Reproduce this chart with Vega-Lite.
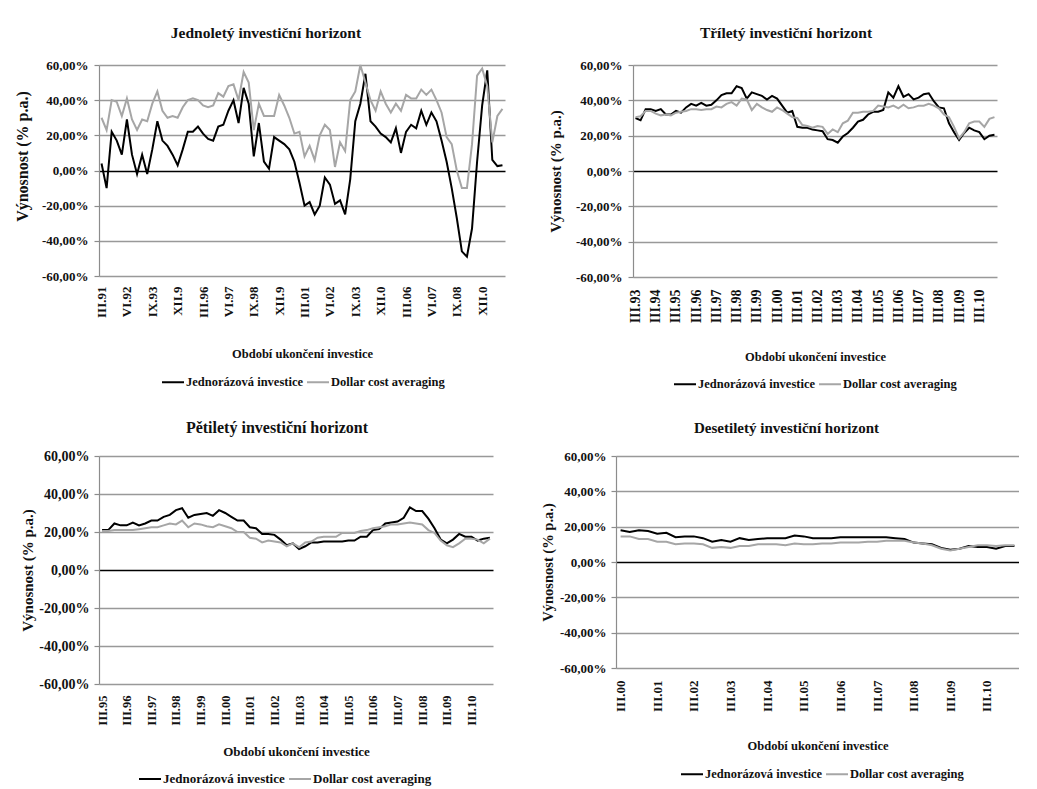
{
  "$schema": "https://vega.github.io/schema/vega-lite/v6.json",
  "background": "white",
  "padding": {"left": 14, "top": 25, "right": 0, "bottom": 0},
  "datasets": {
    "p1": [
      {"q":"III.91","J":0.04,"D":0.30},{"q":"VI.91","J":-0.10,"D":0.23},{"q":"IX.91","J":0.22,"D":0.40},{"q":"XII.91","J":0.17,"D":0.39},
      {"q":"III.92","J":0.09,"D":0.31},{"q":"VI.92","J":0.29,"D":0.41},{"q":"IX.92","J":0.09,"D":0.29},{"q":"XII.92","J":-0.02,"D":0.23},
      {"q":"III.93","J":0.09,"D":0.29},{"q":"VI.93","J":-0.02,"D":0.28},{"q":"IX.93","J":0.12,"D":0.38},{"q":"XII.93","J":0.28,"D":0.45},
      {"q":"III.94","J":0.17,"D":0.34},{"q":"VI.94","J":0.14,"D":0.30},{"q":"IX.94","J":0.09,"D":0.31},{"q":"XII.94","J":0.03,"D":0.30},
      {"q":"III.95","J":0.12,"D":0.36},{"q":"VI.95","J":0.22,"D":0.40},{"q":"IX.95","J":0.22,"D":0.41},{"q":"XII.95","J":0.25,"D":0.40},
      {"q":"III.96","J":0.21,"D":0.37},{"q":"VI.96","J":0.18,"D":0.36},{"q":"IX.96","J":0.17,"D":0.37},{"q":"XII.96","J":0.25,"D":0.44},
      {"q":"III.97","J":0.26,"D":0.42},{"q":"VI.97","J":0.34,"D":0.48},{"q":"IX.97","J":0.40,"D":0.49},{"q":"XII.97","J":0.27,"D":0.40},
      {"q":"III.98","J":0.47,"D":0.56},{"q":"VI.98","J":0.38,"D":0.50},{"q":"IX.98","J":0.08,"D":0.23},{"q":"XII.98","J":0.27,"D":0.38},
      {"q":"III.99","J":0.05,"D":0.31},{"q":"VI.99","J":0.01,"D":0.31},{"q":"IX.99","J":0.19,"D":0.31},{"q":"XII.99","J":0.17,"D":0.43},
      {"q":"III.00","J":0.15,"D":0.37},{"q":"VI.00","J":0.12,"D":0.30},{"q":"IX.00","J":0.05,"D":0.21},{"q":"XII.00","J":-0.07,"D":0.22},
      {"q":"III.01","J":-0.20,"D":0.08},{"q":"VI.01","J":-0.18,"D":0.14},{"q":"IX.01","J":-0.25,"D":0.06},{"q":"XII.01","J":-0.20,"D":0.20},
      {"q":"III.02","J":-0.04,"D":0.26},{"q":"VI.02","J":-0.08,"D":0.23},{"q":"IX.02","J":-0.19,"D":0.02},{"q":"XII.02","J":-0.17,"D":0.16},
      {"q":"III.03","J":-0.25,"D":0.11},{"q":"VI.03","J":-0.05,"D":0.40},{"q":"IX.03","J":0.28,"D":0.45},{"q":"XII.03","J":0.38,"D":0.60},
      {"q":"III.04","J":0.55,"D":0.50},{"q":"VI.04","J":0.28,"D":0.40},{"q":"IX.04","J":0.25,"D":0.34},{"q":"XII.04","J":0.21,"D":0.45},
      {"q":"III.05","J":0.19,"D":0.38},{"q":"VI.05","J":0.16,"D":0.33},{"q":"IX.05","J":0.24,"D":0.38},{"q":"XII.05","J":0.10,"D":0.34},
      {"q":"III.06","J":0.22,"D":0.43},{"q":"VI.06","J":0.26,"D":0.41},{"q":"IX.06","J":0.24,"D":0.41},{"q":"XII.06","J":0.34,"D":0.46},
      {"q":"III.07","J":0.26,"D":0.43},{"q":"VI.07","J":0.33,"D":0.46},{"q":"IX.07","J":0.28,"D":0.40},{"q":"XII.07","J":0.17,"D":0.33},
      {"q":"III.08","J":0.05,"D":0.19},{"q":"VI.08","J":-0.10,"D":0.15},{"q":"IX.08","J":-0.27,"D":0.00},{"q":"XII.08","J":-0.46,"D":-0.10},
      {"q":"III.09","J":-0.49,"D":-0.10},{"q":"VI.09","J":-0.33,"D":0.15},{"q":"IX.09","J":0.05,"D":0.54},{"q":"XII.09","J":0.37,"D":0.58},
      {"q":"III.10","J":0.57,"D":0.48},{"q":"VI.10","J":0.06,"D":0.16},{"q":"IX.10","J":0.025,"D":0.31},{"q":"XII.10","J":0.03,"D":0.35}
    ],
    "p2": [
      {"q":"III.93","J":0.30,"D":0.305},{"q":"VI.93","J":0.287,"D":0.31},{"q":"IX.93","J":0.35,"D":0.34},{"q":"XII.93","J":0.35,"D":0.34},
      {"q":"III.94","J":0.34,"D":0.325},{"q":"VI.94","J":0.35,"D":0.315},{"q":"IX.94","J":0.32,"D":0.32},{"q":"XII.94","J":0.32,"D":0.315},
      {"q":"III.95","J":0.34,"D":0.33},{"q":"VI.95","J":0.33,"D":0.335},{"q":"IX.95","J":0.36,"D":0.34},{"q":"XII.95","J":0.38,"D":0.35},
      {"q":"III.96","J":0.37,"D":0.35},{"q":"VI.96","J":0.385,"D":0.345},{"q":"IX.96","J":0.37,"D":0.35},{"q":"XII.96","J":0.375,"D":0.35},
      {"q":"III.97","J":0.40,"D":0.365},{"q":"VI.97","J":0.43,"D":0.36},{"q":"IX.97","J":0.44,"D":0.38},{"q":"XII.97","J":0.44,"D":0.39},
      {"q":"III.98","J":0.48,"D":0.37},{"q":"VI.98","J":0.47,"D":0.41},{"q":"IX.98","J":0.41,"D":0.405},{"q":"XII.98","J":0.445,"D":0.345},
      {"q":"III.99","J":0.435,"D":0.38},{"q":"VI.99","J":0.425,"D":0.36},{"q":"IX.99","J":0.405,"D":0.345},{"q":"XII.99","J":0.425,"D":0.335},
      {"q":"III.00","J":0.41,"D":0.36},{"q":"VI.00","J":0.37,"D":0.345},{"q":"IX.00","J":0.33,"D":0.325},{"q":"XII.00","J":0.34,"D":0.305},
      {"q":"III.01","J":0.25,"D":0.30},{"q":"VI.01","J":0.245,"D":0.26},{"q":"IX.01","J":0.245,"D":0.255},{"q":"XII.01","J":0.235,"D":0.245},
      {"q":"III.02","J":0.23,"D":0.255},{"q":"VI.02","J":0.225,"D":0.25},{"q":"IX.02","J":0.18,"D":0.21},{"q":"XII.02","J":0.175,"D":0.235},
      {"q":"III.03","J":0.16,"D":0.22},{"q":"VI.03","J":0.195,"D":0.27},{"q":"IX.03","J":0.215,"D":0.285},{"q":"XII.03","J":0.245,"D":0.33},
      {"q":"III.04","J":0.28,"D":0.33},{"q":"VI.04","J":0.29,"D":0.335},{"q":"IX.04","J":0.32,"D":0.335},{"q":"XII.04","J":0.335,"D":0.34},
      {"q":"III.05","J":0.335,"D":0.37},{"q":"VI.05","J":0.345,"D":0.365},{"q":"IX.05","J":0.445,"D":0.36},{"q":"XII.05","J":0.415,"D":0.37},
      {"q":"III.06","J":0.48,"D":0.355},{"q":"VI.06","J":0.42,"D":0.375},{"q":"IX.06","J":0.435,"D":0.355},{"q":"XII.06","J":0.405,"D":0.36},
      {"q":"III.07","J":0.415,"D":0.37},{"q":"VI.07","J":0.435,"D":0.37},{"q":"IX.07","J":0.44,"D":0.38},{"q":"XII.07","J":0.395,"D":0.37},
      {"q":"III.08","J":0.36,"D":0.355},{"q":"VI.08","J":0.355,"D":0.32},{"q":"IX.08","J":0.27,"D":0.305},{"q":"XII.08","J":0.22,"D":0.25},
      {"q":"III.09","J":0.175,"D":0.185},{"q":"VI.09","J":0.215,"D":0.22},{"q":"IX.09","J":0.245,"D":0.27},{"q":"XII.09","J":0.23,"D":0.28},
      {"q":"III.10","J":0.22,"D":0.28},{"q":"VI.10","J":0.18,"D":0.25},{"q":"IX.10","J":0.20,"D":0.295},{"q":"XII.10","J":0.205,"D":0.305}
    ],
    "p3": [
      {"q":"III.95","J":0.21,"D":0.205},{"q":"VI.95","J":0.21,"D":0.205},{"q":"IX.95","J":0.245,"D":0.21},{"q":"XII.95","J":0.235,"D":0.21},
      {"q":"III.96","J":0.235,"D":0.21},{"q":"VI.96","J":0.25,"D":0.21},{"q":"IX.96","J":0.235,"D":0.215},{"q":"XII.96","J":0.245,"D":0.22},
      {"q":"III.97","J":0.26,"D":0.225},{"q":"VI.97","J":0.26,"D":0.225},{"q":"IX.97","J":0.28,"D":0.235},{"q":"XII.97","J":0.29,"D":0.245},
      {"q":"III.98","J":0.315,"D":0.24},{"q":"VI.98","J":0.325,"D":0.26},{"q":"IX.98","J":0.275,"D":0.225},{"q":"XII.98","J":0.29,"D":0.245},
      {"q":"III.99","J":0.295,"D":0.24},{"q":"VI.99","J":0.30,"D":0.23},{"q":"IX.99","J":0.285,"D":0.225},{"q":"XII.99","J":0.315,"D":0.24},
      {"q":"III.00","J":0.30,"D":0.23},{"q":"VI.00","J":0.28,"D":0.22},{"q":"IX.00","J":0.26,"D":0.20},{"q":"XII.00","J":0.26,"D":0.20},
      {"q":"III.01","J":0.225,"D":0.17},{"q":"VI.01","J":0.22,"D":0.165},{"q":"IX.01","J":0.19,"D":0.145},{"q":"XII.01","J":0.19,"D":0.155},
      {"q":"III.02","J":0.185,"D":0.15},{"q":"VI.02","J":0.16,"D":0.145},{"q":"IX.02","J":0.13,"D":0.125},{"q":"XII.02","J":0.14,"D":0.14},
      {"q":"III.03","J":0.11,"D":0.12},{"q":"VI.03","J":0.125,"D":0.145},{"q":"IX.03","J":0.145,"D":0.15},{"q":"XII.03","J":0.145,"D":0.17},
      {"q":"III.04","J":0.15,"D":0.175},{"q":"VI.04","J":0.15,"D":0.175},{"q":"IX.04","J":0.15,"D":0.175},{"q":"XII.04","J":0.15,"D":0.195},
      {"q":"III.05","J":0.155,"D":0.195},{"q":"VI.05","J":0.155,"D":0.195},{"q":"IX.05","J":0.175,"D":0.205},{"q":"XII.05","J":0.175,"D":0.21},
      {"q":"III.06","J":0.21,"D":0.22},{"q":"VI.06","J":0.215,"D":0.225},{"q":"IX.06","J":0.245,"D":0.23},{"q":"XII.06","J":0.25,"D":0.24},
      {"q":"III.07","J":0.255,"D":0.24},{"q":"VI.07","J":0.275,"D":0.245},{"q":"IX.07","J":0.33,"D":0.25},{"q":"XII.07","J":0.31,"D":0.245},
      {"q":"III.08","J":0.31,"D":0.24},{"q":"VI.08","J":0.27,"D":0.21},{"q":"IX.08","J":0.22,"D":0.195},{"q":"XII.08","J":0.16,"D":0.155},
      {"q":"III.09","J":0.14,"D":0.13},{"q":"VI.09","J":0.16,"D":0.12},{"q":"IX.09","J":0.19,"D":0.14},{"q":"XII.09","J":0.175,"D":0.165},
      {"q":"III.10","J":0.175,"D":0.165},{"q":"VI.10","J":0.155,"D":0.16},{"q":"IX.10","J":0.165,"D":0.14},{"q":"XII.10","J":0.17,"D":0.165}
    ],
    "p4": [
      {"q":"III.00","J":0.18,"D":0.145},{"q":"VI.00","J":0.17,"D":0.145},{"q":"IX.00","J":0.18,"D":0.13},{"q":"XII.00","J":0.175,"D":0.13},
      {"q":"III.01","J":0.16,"D":0.115},{"q":"VI.01","J":0.165,"D":0.115},{"q":"IX.01","J":0.14,"D":0.10},{"q":"XII.01","J":0.145,"D":0.105},
      {"q":"III.02","J":0.145,"D":0.105},{"q":"VI.02","J":0.135,"D":0.10},{"q":"IX.02","J":0.115,"D":0.08},{"q":"XII.02","J":0.125,"D":0.085},
      {"q":"III.03","J":0.115,"D":0.08},{"q":"VI.03","J":0.135,"D":0.09},{"q":"IX.03","J":0.125,"D":0.09},{"q":"XII.03","J":0.13,"D":0.10},
      {"q":"III.04","J":0.135,"D":0.10},{"q":"VI.04","J":0.135,"D":0.10},{"q":"IX.04","J":0.135,"D":0.095},{"q":"XII.04","J":0.15,"D":0.105},
      {"q":"III.05","J":0.145,"D":0.10},{"q":"VI.05","J":0.135,"D":0.10},{"q":"IX.05","J":0.135,"D":0.105},{"q":"XII.05","J":0.135,"D":0.105},
      {"q":"III.06","J":0.14,"D":0.11},{"q":"VI.06","J":0.14,"D":0.11},{"q":"IX.06","J":0.14,"D":0.11},{"q":"XII.06","J":0.14,"D":0.115},
      {"q":"III.07","J":0.14,"D":0.115},{"q":"VI.07","J":0.14,"D":0.12},{"q":"IX.07","J":0.135,"D":0.12},{"q":"XII.07","J":0.13,"D":0.12},
      {"q":"III.08","J":0.11,"D":0.11},{"q":"VI.08","J":0.105,"D":0.105},{"q":"IX.08","J":0.10,"D":0.095},{"q":"XII.08","J":0.08,"D":0.075},
      {"q":"III.09","J":0.07,"D":0.065},{"q":"VI.09","J":0.075,"D":0.075},{"q":"IX.09","J":0.09,"D":0.085},{"q":"XII.09","J":0.085,"D":0.095},
      {"q":"III.10","J":0.085,"D":0.095},{"q":"VI.10","J":0.075,"D":0.09},{"q":"IX.10","J":0.09,"D":0.095},{"q":"XII.10","J":0.09,"D":0.095}
    ]
  },
  "concat": [
    {
      "concat": [
        {
          "width": 406, "height": 211,
          "data": {"name": "p1"},
          "transform": [{"fold": ["J", "D"], "as": ["s", "v"]}],
          "title": {"text": "Jednoletý investiční horizont", "fontSize": 15.5, "offset": 18, "dx": -36, "frame": "group"},
          "mark": {"type": "line", "strokeWidth": 2},
          "encoding": {
            "x": {"field": "q", "type": "nominal", "sort": null, "scale": {"type": "point", "padding": 0.5},
              "axis": {"title": "Období ukončení investice", "values": ["III.91","VI.92","IX.93","XII.94","III.96","VI.97","IX.98","XII.99","III.01","VI.02","IX.03","XII.04","III.06","VI.07","IX.08","XII.09"],
                "labelExpr": "indexof(datum.label, 'XII') === 0 ? slice(datum.label, 0, 5) : datum.label",
                "labelFontSize": 13, "labelPadding": 10, "titleFontSize": 12.5, "titlePadding": 30}},
            "y": {"field": "v", "type": "quantitative", "scale": {"domain": [-0.6, 0.6]},
              "axis": {"title": "Výnosnost (% p.a.)", "values": [-0.6, -0.4, -0.2, 0, 0.2, 0.4, 0.6],
                "labelExpr": "replace(replace(format(datum.value, '.2%'), '.', ','), '\u2212', '-')",
                "labelFontSize": 13, "labelPadding": 6, "titleFontSize": 16, "titlePadding": 11, "titleY": 91,
                "gridColor": {"condition": {"test": "datum.value === 0", "value": "#000000"}, "value": "#999999"}}},
            "color": {"field": "s", "type": "nominal", "scale": {"domain": ["J", "D"], "range": ["#000000", "#a6a6a6"]},
              "legend": {"legendX": 62, "legendY": 305, "labelExpr": "datum.label === 'J' ? 'Jednorázová investice' : 'Dollar cost averaging'"}},
            "order": {"value": null}
          }
        },
        {
          "width": 364, "height": 212,
          "data": {"name": "p2"},
          "transform": [{"fold": ["J", "D"], "as": ["s", "v"]}],
          "title": {"text": "Tříletý investiční horizont", "fontSize": 15.5, "offset": 18, "dx": -29, "frame": "group"},
          "mark": {"type": "line", "strokeWidth": 2},
          "encoding": {
            "x": {"field": "q", "type": "nominal", "sort": null, "scale": {"type": "point", "padding": 0.5},
              "axis": {"title": "Období ukončení investice", "values": ["III.93","III.94","III.95","III.96","III.97","III.98","III.99","III.00","III.01","III.02","III.03","III.04","III.05","III.06","III.07","III.08","III.09","III.10"],
                "labelFontSize": 14, "labelPadding": 12, "titleFontSize": 12.5, "titlePadding": 28}},
            "y": {"field": "v", "type": "quantitative", "scale": {"domain": [-0.6, 0.6]},
              "axis": {"title": "Výnosnost (% p.a.)", "values": [-0.6, -0.4, -0.2, 0, 0.2, 0.4, 0.6],
                "labelExpr": "replace(replace(format(datum.value, '.2%'), '.', ','), '\u2212', '-')",
                "labelFontSize": 13, "labelPadding": 6, "titleFontSize": 15, "titlePadding": 12,
                "gridColor": {"condition": {"test": "datum.value === 0", "value": "#000000"}, "value": "#999999"}}},
            "color": {"field": "s", "type": "nominal", "scale": {"domain": ["J", "D"], "range": ["#000000", "#a6a6a6"]},
              "legend": {"legendX": 40, "legendY": 307, "labelExpr": "datum.label === 'J' ? 'Jednorázová investice' : 'Dollar cost averaging'"}},
            "order": {"value": null}
          }
        }
      ],
      "columns": 2,
      "spacing": 41,
      "resolve": {"scale": {"color": "independent"}, "legend": {"color": "independent"}}
    },
    {
      "concat": [
        {
          "width": 394, "height": 228,
          "data": {"name": "p3"},
          "transform": [{"fold": ["J", "D"], "as": ["s", "v"]}],
          "title": {"text": "Pětiletý investiční horizont", "fontSize": 16, "offset": 13, "dx": -19, "frame": "group"},
          "mark": {"type": "line", "strokeWidth": 2},
          "encoding": {
            "x": {"field": "q", "type": "nominal", "sort": null, "scale": {"type": "point", "padding": 0.5},
              "axis": {"title": "Období ukončení investice", "values": ["III.95","III.96","III.97","III.98","III.99","III.00","III.01","III.02","III.03","III.04","III.05","III.06","III.07","III.08","III.09","III.10"],
                "labelFontSize": 12.5, "labelPadding": 11, "titleFontSize": 13, "titlePadding": 20}},
            "y": {"field": "v", "type": "quantitative", "scale": {"domain": [-0.6, 0.6]},
              "axis": {"title": "Výnosnost (% p.a.)", "values": [-0.6, -0.4, -0.2, 0, 0.2, 0.4, 0.6],
                "labelExpr": "replace(replace(format(datum.value, '.2%'), '.', ','), '\u2212', '-')",
                "labelFontSize": 14, "labelPadding": 5, "titleFontSize": 15, "titlePadding": 3,
                "gridColor": {"condition": {"test": "datum.value === 0", "value": "#000000"}, "value": "#999999"}}},
            "color": {"field": "s", "type": "nominal", "scale": {"domain": ["J", "D"], "range": ["#000000", "#a6a6a6"]},
              "legend": {"legendX": 39, "legendY": 311, "labelFontSize": 13, "labelExpr": "datum.label === 'J' ? 'Jednorázová investice' : 'Dollar cost averaging'"}},
            "order": {"value": null}
          }
        },
        {
          "width": 403, "height": 212,
          "data": {"name": "p4"},
          "transform": [{"fold": ["J", "D"], "as": ["s", "v"]}],
          "title": {"text": "Desetiletý investiční horizont", "fontSize": 15, "offset": 14, "dx": -31, "frame": "group"},
          "mark": {"type": "line", "strokeWidth": 2},
          "encoding": {
            "x": {"field": "q", "type": "nominal", "sort": null, "scale": {"type": "point", "padding": 0.5},
              "axis": {"title": "Období ukončení investice", "values": ["III.00","III.01","III.02","III.03","III.04","III.05","III.06","III.07","III.08","III.09","III.10"],
                "labelFontSize": 13, "labelPadding": 12, "titleFontSize": 12.5, "titlePadding": 28}},
            "y": {"field": "v", "type": "quantitative", "scale": {"domain": [-0.6, 0.6]},
              "axis": {"title": "Výnosnost (% p.a.)", "values": [-0.6, -0.4, -0.2, 0, 0.2, 0.4, 0.6],
                "labelExpr": "replace(replace(format(datum.value, '.2%'), '.', ','), '\u2212', '-')",
                "labelFontSize": 13, "labelPadding": 5, "titleFontSize": 14.5, "titlePadding": 4,
                "gridColor": {"condition": {"test": "datum.value === 0", "value": "#000000"}, "value": "#999999"}}},
            "color": {"field": "s", "type": "nominal", "scale": {"domain": ["J", "D"], "range": ["#000000", "#a6a6a6"]},
              "legend": {"legendX": 64, "legendY": 306, "labelExpr": "datum.label === 'J' ? 'Jednorázová investice' : 'Dollar cost averaging'"}},
            "order": {"value": null}
          }
        }
      ],
      "columns": 2,
      "spacing": 46,
      "resolve": {"scale": {"color": "independent"}, "legend": {"color": "independent"}}
    }
  ],
  "columns": 1,
  "spacing": 29,
  "resolve": {"scale": {"color": "independent"}, "legend": {"color": "independent"}},
  "config": {
    "font": "Liberation Serif",
    "view": {"stroke": null},
    "title": {"font": "Liberation Serif", "fontWeight": "bold", "color": "#111111", "anchor": "middle"},
    "axis": {
      "labelFont": "Liberation Serif", "labelFontWeight": "bold", "labelColor": "#111111",
      "titleFont": "Liberation Serif", "titleFontWeight": "bold", "titleColor": "#111111"
    },
    "axisY": {"domainColor": "#8c8c8c", "domainWidth": 1.2, "tickColor": "#8c8c8c", "tickSize": 5, "tickWidth": 1.2, "gridWidth": 1.3},
    "axisX": {"domain": false, "ticks": false, "grid": false, "labelAngle": -90, "labelOverlap": false},
    "legend": {
      "orient": "none", "direction": "horizontal", "columns": 2, "title": null,
      "symbolType": "stroke", "symbolSize": 484, "symbolStrokeWidth": 2,
      "labelFont": "Liberation Serif", "labelFontWeight": "bold", "labelFontSize": 12.5, "labelColor": "#111111",
      "labelOffset": 1, "columnPadding": 0, "padding": 0, "labelLimit": 300
    }
  }
}
